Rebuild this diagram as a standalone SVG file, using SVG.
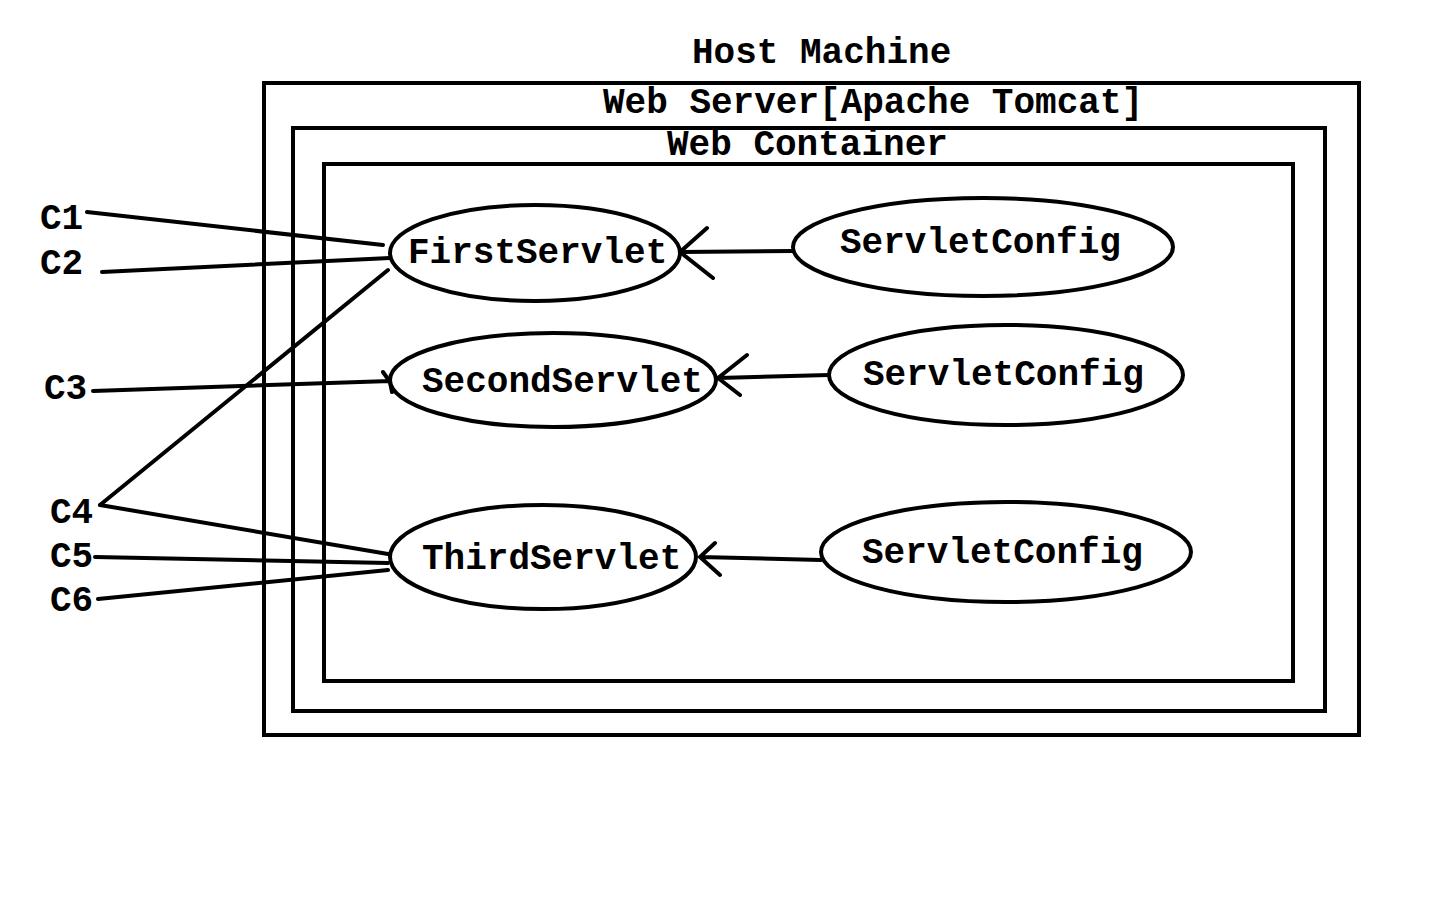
<svg xmlns="http://www.w3.org/2000/svg" width="1440" height="900" viewBox="0 0 1440 900">
<style>
.t{font-family:"Liberation Mono","Courier New",monospace;font-weight:bold;font-size:36px;fill:#000}
.box{fill:none;stroke:#000;stroke-width:4}
.n{fill:#fff;stroke:#000;stroke-width:4}
.c{fill:none;stroke:#000;stroke-width:4;stroke-linecap:round;stroke-linejoin:round}
</style>
<rect width="1440" height="900" fill="#fff"/>
<g id="host">
<text class="t" x="692" y="63">Host Machine</text>
<rect class="box" x="264" y="83" width="1095" height="652"/>
</g>
<g id="webserver">
<text class="t" x="603" y="113">Web Server[Apache Tomcat]</text>
<rect class="box" x="293" y="128" width="1032" height="583"/>
</g>
<g id="webcontainer">
<text class="t" x="667" y="155">Web Container</text>
<rect class="box" x="324" y="164" width="969" height="517"/>
</g>
<g id="connectors">
<path class="c" d="M87,212 L383,245"/>
<path class="c" d="M102,272 L390,258"/>
<path class="c" d="M100,505 L388,270"/>
<path class="c" d="M93,391 L390,381 M383,372 L390,382 L392,392"/>
<path class="c" d="M100,505 L388,554"/>
<path class="c" d="M95,557 L388,563"/>
<path class="c" d="M98,599 L388,570"/>
<path class="c" d="M793,251 L680,252 M707,228 L680,252 L713,278"/>
<path class="c" d="M829,375 L718,378 M747,355 L718,378 L740,395"/>
<path class="c" d="M821,560 L700,557 M715,543 L700,557 L720,575"/>
</g>
<g id="clients">
<text class="t" x="40" y="229">C1</text>
<text class="t" x="40" y="274">C2</text>
<text class="t" x="44" y="399">C3</text>
<text class="t" x="50" y="523">C4</text>
<text class="t" x="50" y="567">C5</text>
<text class="t" x="50" y="611">C6</text>
</g>
<g id="first-servlet">
<ellipse class="n" cx="535" cy="253" rx="145" ry="48"/>
<text class="t" x="408" y="263">FirstServlet</text>
</g>
<g id="second-servlet">
<ellipse class="n" cx="553" cy="380" rx="163" ry="47"/>
<text class="t" x="422" y="392">SecondServlet</text>
</g>
<g id="third-servlet">
<ellipse class="n" cx="543" cy="557" rx="153" ry="52"/>
<text class="t" x="422" y="569">ThirdServlet</text>
</g>
<g id="config1">
<ellipse class="n" cx="983" cy="247" rx="190" ry="49"/>
<text class="t" x="840" y="253">ServletConfig</text>
</g>
<g id="config2">
<ellipse class="n" cx="1006" cy="375" rx="177" ry="50"/>
<text class="t" x="863" y="385">ServletConfig</text>
</g>
<g id="config3">
<ellipse class="n" cx="1006" cy="552" rx="185" ry="50"/>
<text class="t" x="862" y="563">ServletConfig</text>
</g>
</svg>
